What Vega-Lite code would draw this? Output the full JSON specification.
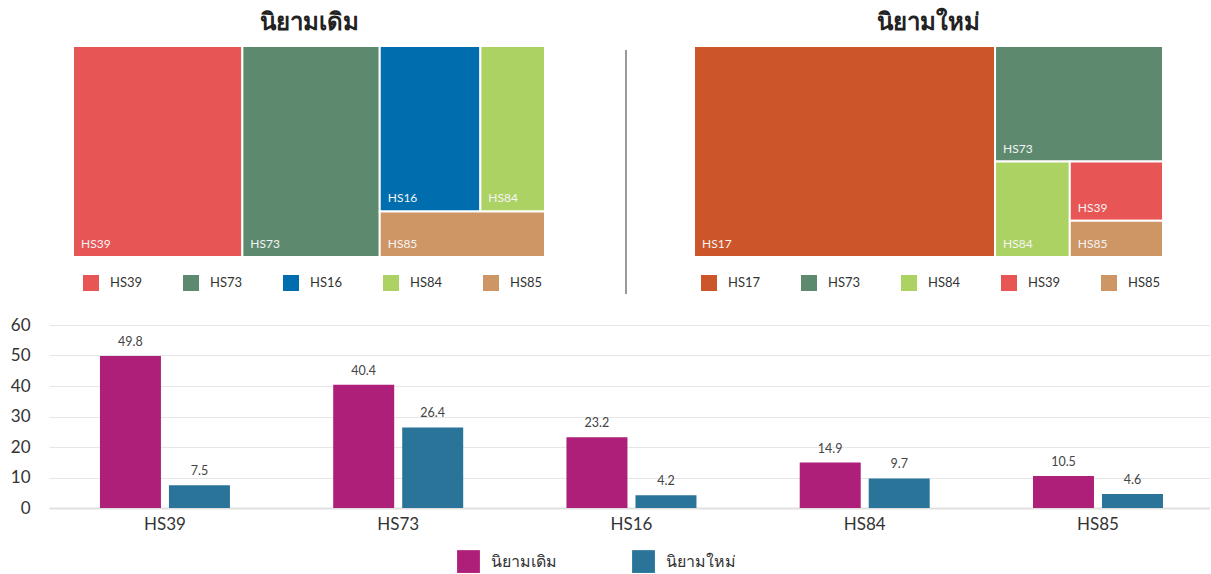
{
  "$schema": "https://vega.github.io/schema/vega-lite/v6.json",
  "padding": {"left": 10, "top": 11, "right": 0, "bottom": 0},
  "autosize": {"type": "pad"},
  "config": {
    "view": {"stroke": null},
    "font": "Lato",
    "title": {"font": "Lato", "fontSize": 24, "fontWeight": "bold", "color": "#222222", "offset": 10}
  },
  "datasets": {
    "tm": [
      {"chart": "old", "code": "HS39", "value": 49.8, "c": 1, "b": 1, "s": 1, "o": 1},
      {"chart": "old", "code": "HS73", "value": 40.4, "c": 2, "b": 1, "s": 1, "o": 1},
      {"chart": "old", "code": "HS16", "value": 23.2, "c": 3, "b": 1, "s": 1, "o": 1},
      {"chart": "old", "code": "HS84", "value": 14.9, "c": 3, "b": 1, "s": 2, "o": 1},
      {"chart": "old", "code": "HS85", "value": 10.5, "c": 3, "b": 2, "s": 1, "o": 1},
      {"chart": "new", "code": "HS17", "value": 86.4, "c": 1, "b": 1, "s": 1, "o": 1},
      {"chart": "new", "code": "HS73", "value": 26.4, "c": 2, "b": 1, "s": 1, "o": 1},
      {"chart": "new", "code": "HS84", "value": 9.7, "c": 2, "b": 2, "s": 1, "o": 1},
      {"chart": "new", "code": "HS39", "value": 7.5, "c": 2, "b": 2, "s": 2, "o": 1},
      {"chart": "new", "code": "HS85", "value": 4.6, "c": 2, "b": 2, "s": 2, "o": 2}
    ],
    "bars": [
      {"code": "HS39", "def": "นิยามเดิม", "value": 49.8},
      {"code": "HS39", "def": "นิยามใหม่", "value": 7.5},
      {"code": "HS73", "def": "นิยามเดิม", "value": 40.4},
      {"code": "HS73", "def": "นิยามใหม่", "value": 26.4},
      {"code": "HS16", "def": "นิยามเดิม", "value": 23.2},
      {"code": "HS16", "def": "นิยามใหม่", "value": 4.2},
      {"code": "HS84", "def": "นิยามเดิม", "value": 14.9},
      {"code": "HS84", "def": "นิยามใหม่", "value": 9.7},
      {"code": "HS85", "def": "นิยามเดิม", "value": 10.5},
      {"code": "HS85", "def": "นิยามใหม่", "value": 4.6}
    ]
  },
  "spacing": 21,
  "resolve": {"scale": {"color": "independent"}, "legend": {"color": "independent"}},
  "vconcat": [
    {
      "spacing": 0,
      "resolve": {"scale": {"color": "independent"}, "legend": {"color": "independent"}},
      "hconcat": [
        {"width": 23, "height": 10, "data": {"values": []}, "mark": "rect"},
        {
          "spacing": 66,
          "resolve": {"scale": {"color": "independent"}, "legend": {"color": "independent"}},
          "hconcat": [
            {
              "title": {"text": "นิยามเดิม", "anchor": "middle"},
              "width": 472,
              "height": 211,
              "data": {"name": "tm"},
              "transform": [
                {"filter": "datum.chart === 'old'"},
                {"joinaggregate": [{"op": "sum", "field": "value", "as": "T"}]},
                {"stack": "value", "groupby": ["chart"], "sort": [{"field": "c", "order": "ascending"}], "as": ["cs0", "cs1"]},
                {"joinaggregate": [{"op": "min", "field": "cs0", "as": "cx0"}, {"op": "sum", "field": "value", "as": "C"}], "groupby": ["c"]},
                {"stack": "value", "groupby": ["c"], "sort": [{"field": "b", "order": "ascending"}], "as": ["bs0", "bs1"]},
                {"joinaggregate": [{"op": "min", "field": "bs0", "as": "by0"}, {"op": "sum", "field": "value", "as": "B"}], "groupby": ["c", "b"]},
                {"stack": "value", "groupby": ["c", "b"], "sort": [{"field": "s", "order": "ascending"}], "as": ["ss0", "ss1"]},
                {"joinaggregate": [{"op": "min", "field": "ss0", "as": "sx0"}, {"op": "sum", "field": "value", "as": "S"}], "groupby": ["c", "b", "s"]},
                {"stack": "value", "groupby": ["c", "b", "s"], "sort": [{"field": "o", "order": "ascending"}], "as": ["os0", "os1"]},
                {"calculate": "(datum.cx0 + datum.C * datum.sx0 / datum.B) / datum.T", "as": "x0"},
                {"calculate": "(datum.cx0 + datum.C * (datum.sx0 + datum.S) / datum.B) / datum.T", "as": "x1"},
                {"calculate": "(datum.by0 + datum.B * datum.os0 / datum.S) / datum.C", "as": "y0"},
                {"calculate": "(datum.by0 + datum.B * datum.os1 / datum.S) / datum.C", "as": "y1"}
              ],
              "encoding": {
                "x": {"field": "x0", "type": "quantitative", "scale": {"domain": [0, 1], "nice": false}, "axis": null},
                "y": {"field": "y0", "type": "quantitative", "scale": {"domain": [0, 1], "nice": false, "reverse": true}, "axis": null}
              },
              "layer": [
                {
                  "mark": {"type": "rect", "stroke": "white", "strokeWidth": 2},
                  "encoding": {
                    "x2": {"field": "x1"},
                    "y2": {"field": "y1"},
                    "color": {
                      "field": "code", "type": "nominal",
                      "scale": {"domain": ["HS39", "HS73", "HS16", "HS84", "HS85"], "range": ["#E85555", "#5D8A6E", "#006EAE", "#ADD264", "#CF9665"]},
                      "legend": {"title": null, "orient": "none", "legendX": 10, "legendY": 229, "direction": "horizontal", "symbolType": "square", "symbolSize": 256, "symbolStrokeWidth": 0, "symbolOpacity": 1, "labelFontSize": 13, "labelColor": "#333333", "labelOffset": 11, "columnPadding": 40, "padding": 0}
                    }
                  }
                },
                {
                  "mark": {"type": "text", "align": "left", "baseline": "alphabetic", "dx": 8, "dy": -9, "fontSize": 12, "color": "#f4f4f4"},
                  "encoding": {"y": {"field": "y1", "type": "quantitative"}, "text": {"field": "code"}}
                }
              ]
            },
            {
              "width": 14,
              "height": 248,
              "data": {"values": [{"a": 1}]},
              "mark": {"type": "rule", "color": "#9a9a9a", "strokeWidth": 2},
              "encoding": {
                "x": {"datum": 1, "type": "quantitative", "scale": {"domain": [0, 1]}, "axis": null},
                "y": {"datum": 0, "type": "quantitative", "scale": {"domain": [0, 1.0165], "nice": false}, "axis": null},
                "y2": {"datum": 1}
              }
            },
            {
              "title": {"text": "นิยามใหม่", "anchor": "middle"},
              "width": 469,
              "height": 211,
              "data": {"name": "tm"},
              "transform": [
                {"filter": "datum.chart === 'new'"},
                {"joinaggregate": [{"op": "sum", "field": "value", "as": "T"}]},
                {"stack": "value", "groupby": ["chart"], "sort": [{"field": "c", "order": "ascending"}], "as": ["cs0", "cs1"]},
                {"joinaggregate": [{"op": "min", "field": "cs0", "as": "cx0"}, {"op": "sum", "field": "value", "as": "C"}], "groupby": ["c"]},
                {"stack": "value", "groupby": ["c"], "sort": [{"field": "b", "order": "ascending"}], "as": ["bs0", "bs1"]},
                {"joinaggregate": [{"op": "min", "field": "bs0", "as": "by0"}, {"op": "sum", "field": "value", "as": "B"}], "groupby": ["c", "b"]},
                {"stack": "value", "groupby": ["c", "b"], "sort": [{"field": "s", "order": "ascending"}], "as": ["ss0", "ss1"]},
                {"joinaggregate": [{"op": "min", "field": "ss0", "as": "sx0"}, {"op": "sum", "field": "value", "as": "S"}], "groupby": ["c", "b", "s"]},
                {"stack": "value", "groupby": ["c", "b", "s"], "sort": [{"field": "o", "order": "ascending"}], "as": ["os0", "os1"]},
                {"calculate": "(datum.cx0 + datum.C * datum.sx0 / datum.B) / datum.T", "as": "x0"},
                {"calculate": "(datum.cx0 + datum.C * (datum.sx0 + datum.S) / datum.B) / datum.T", "as": "x1"},
                {"calculate": "(datum.by0 + datum.B * datum.os0 / datum.S) / datum.C", "as": "y0"},
                {"calculate": "(datum.by0 + datum.B * datum.os1 / datum.S) / datum.C", "as": "y1"}
              ],
              "encoding": {
                "x": {"field": "x0", "type": "quantitative", "scale": {"domain": [0, 1], "nice": false}, "axis": null},
                "y": {"field": "y0", "type": "quantitative", "scale": {"domain": [0, 1], "nice": false, "reverse": true}, "axis": null}
              },
              "layer": [
                {
                  "mark": {"type": "rect", "stroke": "white", "strokeWidth": 2},
                  "encoding": {
                    "x2": {"field": "x1"},
                    "y2": {"field": "y1"},
                    "color": {
                      "field": "code", "type": "nominal",
                      "scale": {"domain": ["HS17", "HS73", "HS84", "HS39", "HS85"], "range": ["#CC5629", "#5D8A6E", "#ADD264", "#E85555", "#CF9665"]},
                      "legend": {"title": null, "orient": "none", "legendX": 7, "legendY": 229, "direction": "horizontal", "symbolType": "square", "symbolSize": 256, "symbolStrokeWidth": 0, "symbolOpacity": 1, "labelFontSize": 13, "labelColor": "#333333", "labelOffset": 11, "columnPadding": 40, "padding": 0}
                    }
                  }
                },
                {
                  "mark": {"type": "text", "align": "left", "baseline": "alphabetic", "dx": 8, "dy": -9, "fontSize": 12, "color": "#f4f4f4"},
                  "encoding": {"y": {"field": "y1", "type": "quantitative"}, "text": {"field": "code"}}
                }
              ]
            }
          ]
        }
      ]
    },
    {
      "width": 1161,
      "height": 183,
      "data": {"name": "bars"},
      "encoding": {
        "x": {
          "field": "code", "type": "nominal",
          "sort": ["HS39", "HS73", "HS16", "HS84", "HS85"],
          "scale": {"paddingInner": 0.4427, "paddingOuter": 0.21, "align": 0.52},
          "axis": {"title": null, "labelAngle": 0, "labelFontSize": 17, "labelColor": "#333333", "domain": true, "domainColor": "#e0e0e0", "domainWidth": 2, "ticks": false, "labelPadding": 8}
        },
        "xOffset": {"field": "def", "type": "nominal", "sort": ["นิยามเดิม", "นิยามใหม่"], "scale": {"paddingInner": 0.116, "paddingOuter": 0}},
        "y": {
          "field": "value", "type": "quantitative",
          "scale": {"domain": [0, 60], "nice": false},
          "axis": {"title": null, "values": [0, 10, 20, 30, 40, 50, 60], "grid": true, "gridColor": "#e6e6e6", "gridWidth": 1, "domain": false, "ticks": false, "labelFontSize": 17, "labelColor": "#333333", "labelPadding": 19}
        }
      },
      "layer": [
        {
          "mark": {"type": "bar"},
          "encoding": {
            "color": {
              "field": "def", "type": "nominal",
              "scale": {"domain": ["นิยามเดิม", "นิยามใหม่"], "range": ["#AD1F78", "#2A7399"]},
              "legend": {"title": null, "orient": "none", "legendX": 408, "legendY": 225, "direction": "horizontal", "symbolType": "square", "symbolSize": 520, "symbolStrokeWidth": 0, "symbolOpacity": 1, "labelFontSize": 16, "labelColor": "#333333", "labelOffset": 11, "columnPadding": 75, "padding": 0}
            }
          }
        },
        {
          "mark": {"type": "text", "baseline": "alphabetic", "dy": -10, "fontSize": 12.5, "color": "#444444"},
          "encoding": {"text": {"field": "value", "type": "quantitative", "format": ".1f"}}
        }
      ]
    }
  ]
}
